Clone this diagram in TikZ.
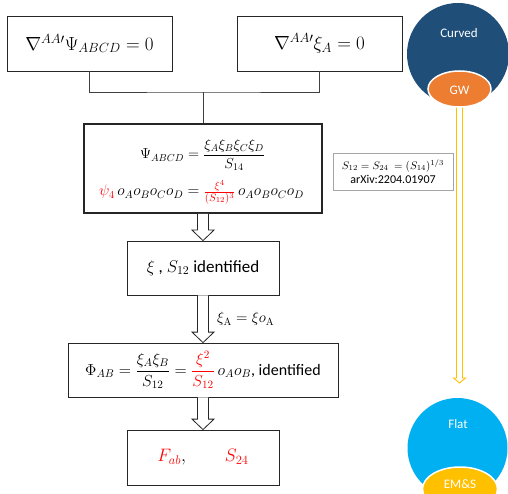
\documentclass[tikz,border=0pt]{standalone}
\usepackage{fix-cm}
\usepackage{amsmath}
\usepackage[no-math]{fontspec}
\setmainfont{Carlito}
\usetikzlibrary{calc,shapes.geometric}
\definecolor{curvedblue}{HTML}{1F4E79}
\definecolor{gworange}{HTML}{ED7D31}
\definecolor{flatblue}{HTML}{00B0F0}
\definecolor{emyellow}{HTML}{FFC000}
\definecolor{eqred}{HTML}{FF0000}
\tikzset{
  box/.style={draw=black!85, line width=0.8pt, rectangle, inner sep=0pt},
  conn/.style={draw=black!75, line width=0.8pt},
  harrow/.style={draw=black!85, fill=white, line width=0.8pt, line join=miter},
  yarrow/.style={draw=emyellow, fill=white, line width=0.9pt, line join=miter},
  wlabel/.style={text=white, font=\fontsize{13}{15}\selectfont, inner sep=0pt},
}
\begin{document}
\begin{tikzpicture}[x=1pt,y=-1pt]
\useasboundingbox (0,0) rectangle (508,494);
\clip (0,0) rectangle (508,494);
% boxes
\node[box, minimum width=165pt, minimum height=55pt] (b1) at (89.5,43.5)
  {\fontsize{19}{22}\selectfont $\nabla^{AA\prime}\Psi_{ABCD}=0$};
\node[box, minimum width=165pt, minimum height=55pt] (b2) at (319.5,43.5)
  {\fontsize{19}{22}\selectfont $\nabla^{AA\prime}\xi_{A}=0$};
\node[box, line width=1.8pt, minimum width=238pt, minimum height=89pt] (b3) at (203,168.5) {};
\node[inner sep=0pt] (b3a) at (202.5,155)
  {\fontsize{14.5}{16}\selectfont $\Psi_{ABCD}=\dfrac{\xi_A\xi_B\xi_C\xi_D}{S_{14}}$};
\node[inner sep=0pt] (b3b) at (201.5,192)
  {\fontsize{15.5}{17}\selectfont $\textcolor{eqred}{\psi_4}\,o_Ao_Bo_Co_D=\textcolor{eqred}{\tfrac{\xi^4}{(S_{12})^3}}\,o_Ao_Bo_Co_D$};
\node[box, draw=black!35, line width=0.8pt, minimum width=120pt, minimum height=37pt, align=center] (note) at (393,171.5)
  {\fontsize{11}{12.5}\selectfont $S_{12}=S_{24}\ =(S_{14})^{1/3}$\\[2pt]\fontsize{12}{13}\selectfont arXiv:2204.01907};
\node[box, minimum width=152pt, minimum height=54pt] (b4) at (203,268)
  {\fontsize{17}{20}\selectfont $\xi$ , $S_{12}$ identified};
\node[box, minimum width=270pt, minimum height=54pt] (b5) at (203,370)
  {\fontsize{16}{18}\selectfont $\Phi_{AB}=\dfrac{\xi_A\xi_B}{S_{12}}=\textcolor{eqred}{\dfrac{\xi^2}{S_{12}}}\,o_Ao_B$, identified};
\node[box, minimum width=152pt, minimum height=55pt] (b6) at (203,457.5)
  {\fontsize{18}{20}\selectfont $\textcolor{eqred}{F_{ab}},\qquad\textcolor{eqred}{S_{24}}$};
% connectors
\coordinate (j) at (203,92);
\draw[conn] (b1.south) |- (j) -| (b2.south);
\draw[conn] (j) -- (b3.north);
% hollow arrows
\draw[harrow] let \p1=(b3.south), \p2=(b4.north) in
  (\x1-5.5pt,\y1) -- (\x1-5.5pt,\y2+10.5pt) -- (\x1-11pt,\y2+10.5pt) -- (\x1,\y2)
  -- (\x1+11pt,\y2+10.5pt) -- (\x1+5.5pt,\y2+10.5pt) -- (\x1+5.5pt,\y1);
\draw[harrow] let \p1=(b4.south), \p2=(b5.north) in
  (\x1-5.5pt,\y1) -- (\x1-5.5pt,\y2+10.5pt) -- (\x1-11pt,\y2+10.5pt) -- (\x1,\y2)
  -- (\x1+11pt,\y2+10.5pt) -- (\x1+5.5pt,\y2+10.5pt) -- (\x1+5.5pt,\y1);
\draw[harrow] let \p1=(b5.south), \p2=(b6.north) in
  (\x1-5.5pt,\y1) -- (\x1-5.5pt,\y2+10.5pt) -- (\x1-11pt,\y2+10.5pt) -- (\x1,\y2)
  -- (\x1+11pt,\y2+10.5pt) -- (\x1+5.5pt,\y2+10.5pt) -- (\x1+5.5pt,\y1);
\node[anchor=west, inner sep=1pt] (lab) at ($(b4.south)!0.5!(b5.north)+(13,0)$)
  {\fontsize{15}{17}\selectfont $\xi_{\mathrm{A}}=\xi o_{\mathrm{A}}$};
% circles
\node[circle, fill=curvedblue, minimum size=102pt, inner sep=0pt] (curved) at (458,54) {};
\node[wlabel] (curvedt) at (459,33) {Curved};
\node[ellipse, fill=gworange, draw=white, line width=1.5pt, minimum width=63pt, minimum height=36pt, inner sep=0pt] (gw) at (459.5,89) {};
\node[wlabel] (gwt) at (459.5,90) {GW};
\node[circle, fill=flatblue, minimum size=100pt, inner sep=0pt] (flat) at (457.5,448) {};
\node[wlabel] (flatt) at (458,424) {Flat};
\node[ellipse, fill=emyellow, draw=white, line width=1.5pt, minimum width=75pt, minimum height=44pt, inner sep=0pt] (ems) at (460,489) {};
\node[wlabel] (emst) at (460,484) {EM\&S};
\coordinate (ytip) at (459,383);
\draw[yarrow] let \p1=(gw.south), \p2=(ytip) in
  (\x1-3pt,\y1) -- (\x1-3pt,\y2+5pt) -- (\x1-6pt,\y2+5pt) -- (\x1,\y2)
  -- (\x1+6pt,\y2+5pt) -- (\x1+3pt,\y2+5pt) -- (\x1+3pt,\y1);
\end{tikzpicture}
\end{document}
